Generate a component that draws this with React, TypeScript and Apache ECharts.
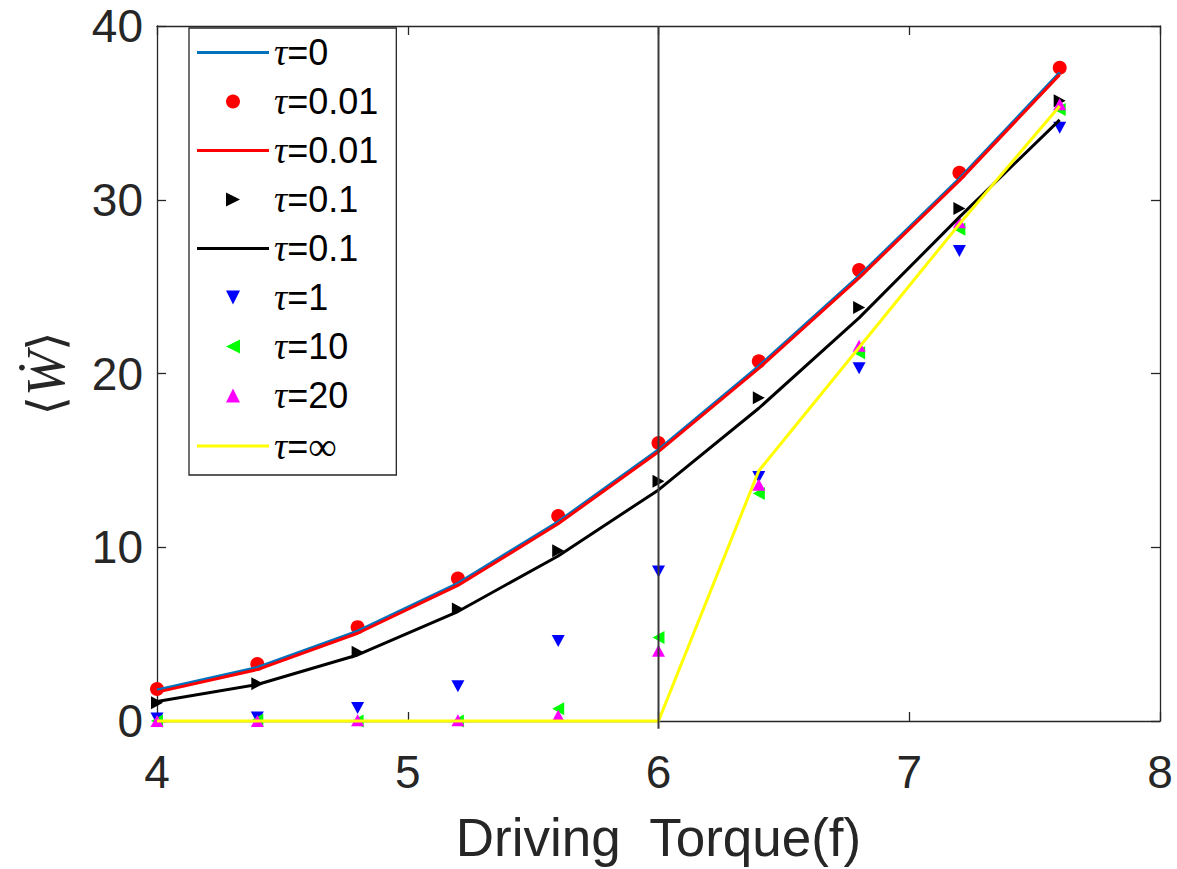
import React, { useEffect, useRef } from 'react';
import * as echarts from 'echarts';

// Driving torque samples (x axis)
const torque = [4.0, 4.4, 4.8, 5.2, 5.6, 6.0, 6.4, 6.8, 7.2, 7.6];

// Mean work rate <W-dot> for each relaxation time tau
const workTau0Line = [1.78, 3.08, 5.17, 7.92, 11.47, 15.62, 20.42, 25.62, 31.22, 37.32];
const workTau001Pts = [1.84, 3.28, 5.4, 8.2, 11.8, 16.0, 20.7, 25.95, 31.55, 37.6];
const workTau001Line = [1.66, 2.96, 5.05, 7.8, 11.35, 15.5, 20.3, 25.5, 31.1, 37.2];
const workTau01Pts = [1.05, 2.15, 3.95, 6.45, 9.8, 13.8, 18.6, 23.8, 29.5, 35.7];
const workTau01Line = [1.12, 2.1, 3.8, 6.3, 9.5, 13.3, 18.0, 23.2, 29.0, 34.6];
const workTau1Pts = [0.15, 0.2, 0.75, 2.0, 4.6, 8.6, 14.05, 20.3, 27.05, 34.15];
const workTau10Pts = [0.0, 0.05, 0.0, 0.0, 0.7, 4.8, 13.1, 21.2, 28.3, 35.2];
const workTau20Pts = [0.0, 0.0, 0.05, 0.05, 0.3, 4.05, 13.6, 21.6, 28.7, 35.5];
const workTauInfLine = [0, 0, 0, 0, 0, 0, 14.4, 21.5, 28.6, 35.4];

// Vertical reference line at the critical torque
const criticalTorque = 6;
const criticalSpan = [-0.45, 40];

// Axis ranges
const xRange = [4, 8];
const xStep = 1;
const yRange = [0, 40];
const yStep = 10;

// Legend entries: series name, text after the tau symbol, drawn as a line or as a marker
const legendEntries = [
  { name: 'tau0Line', rest: '=0', line: true },
  { name: 'tau001Pts', rest: '=0.01', line: false },
  { name: 'tau001Line', rest: '=0.01', line: true },
  { name: 'tau01Pts', rest: '=0.1', line: false },
  { name: 'tau01Line', rest: '=0.1', line: true },
  { name: 'tau1Pts', rest: '=1', line: false },
  { name: 'tau10Pts', rest: '=10', line: false },
  { name: 'tau20Pts', rest: '=20', line: false },
  { name: 'tauInfLine', rest: '=∞', line: true },
];

const TRI_RIGHT = 'path://M0,0L10,5L0,10Z';
const TRI_LEFT = 'path://M10,0L0,5L10,10Z';
const TRI_DOWN = 'path://M0,0L10,0L5,10Z';
const TRI_UP = 'path://M5,0L10,10L0,10Z';
const LINE_ICON = 'path://M0,0H72V3H0Z';

const AXIS_COLOR = '#262626';
const SANS = '"Liberation Sans", Arial, Helvetica, sans-serif';
const SERIF = '"Liberation Serif", "Times New Roman", "DejaVu Serif", serif';

const pairs = (ys: number[]) => torque.map((x, i) => [x, ys[i]]);

const lineSeries = (name: string, ys: number[], color: string) => ({
  name,
  type: 'line',
  data: pairs(ys),
  symbol: 'none',
  showSymbol: false,
  clip: false,
  lineStyle: { color, width: 3 },
  itemStyle: { color },
});

const markerSeries = (name: string, ys: number[], color: string, symbol: string, size: number | number[]) => ({
  name,
  type: 'scatter',
  data: pairs(ys),
  symbol,
  symbolSize: size,
  clip: false,
  itemStyle: { color, opacity: 1 },
});

export default function App() {
  const ref = useRef<HTMLDivElement>(null);

  useEffect(() => {
    if (!ref.current) return;
    const chart = echarts.init(ref.current, null, { renderer: 'svg' });

    const baseAxis = {
      type: 'value',
      axisLine: { show: true, onZero: false, lineStyle: { color: AXIS_COLOR, width: 1.3 } },
      axisTick: { show: true, inside: true, length: 9, lineStyle: { color: AXIS_COLOR, width: 1.3 } },
      splitLine: { show: false },
    };

    const restByName: Record<string, string> = {};
    legendEntries.forEach((e) => (restByName[e.name] = e.rest));

    const option = {
      animation: false,
      backgroundColor: '#ffffff',
      grid: { left: 157, right: 17, top: 26, bottom: 147, containLabel: false },
      xAxis: [
        {
          ...baseAxis,
          position: 'bottom',
          min: xRange[0],
          max: xRange[1],
          interval: xStep,
          axisLabel: { color: AXIS_COLOR, fontFamily: SANS, fontSize: 46, margin: 28 },
          name: 'Driving  Torque(f)',
          nameLocation: 'middle',
          nameGap: 90,
          nameTextStyle: { color: AXIS_COLOR, fontFamily: SANS, fontSize: 53 },
        },
        {
          ...baseAxis,
          position: 'top',
          min: xRange[0],
          max: xRange[1],
          interval: xStep,
          axisLabel: { show: false },
        },
      ],
      yAxis: [
        {
          ...baseAxis,
          position: 'left',
          min: yRange[0],
          max: yRange[1],
          interval: yStep,
          axisLabel: { color: AXIS_COLOR, fontFamily: SANS, fontSize: 46, margin: 14 },
          name: '{b|⟨}{w|Ẇ}{b|⟩}',
          nameLocation: 'middle',
          nameRotate: 90,
          nameGap: 84,
          nameTextStyle: {
            rich: {
              b: { fontFamily: '"DejaVu Sans", sans-serif', fontSize: 50, color: AXIS_COLOR },
              w: { fontFamily: SERIF, fontStyle: 'italic', fontSize: 54, color: AXIS_COLOR },
            },
          },
        },
        {
          ...baseAxis,
          position: 'right',
          min: yRange[0],
          max: yRange[1],
          interval: yStep,
          axisLabel: { show: false },
        },
      ],
      legend: {
        orient: 'vertical',
        left: 189,
        top: 28,
        padding: [6, 18, 9, 8],
        itemGap: 12,
        itemWidth: 72,
        itemHeight: 14,
        selectedMode: false,
        backgroundColor: '#ffffff',
        borderColor: AXIS_COLOR,
        borderWidth: 1.3,
        borderRadius: 0,
        data: legendEntries.map((e) => (e.line ? { name: e.name, icon: LINE_ICON } : { name: e.name })),
        formatter: (name: string) => {
          const rest = restByName[name] || '';
          if (rest.includes('∞')) return '{t|τ}{n|=}{s|∞}';
          return `{t|τ}{n|${rest}}`;
        },
        textStyle: {
          color: '#000000',
          fontSize: 36,
          rich: {
            t: { fontFamily: SERIF, fontStyle: 'italic', fontSize: 37, lineHeight: 33, color: '#000000' },
            n: { fontFamily: SANS, fontSize: 36, lineHeight: 33, color: '#000000' },
            s: { fontFamily: SERIF, fontSize: 40, lineHeight: 33, color: '#000000' },
          },
        },
      },
      series: [
        lineSeries('tau0Line', workTau0Line, '#0072BD'),
        markerSeries('tau001Pts', workTau001Pts, '#FF0000', 'circle', 14),
        lineSeries('tau001Line', workTau001Line, '#FF0000'),
        markerSeries('tau01Pts', workTau01Pts, '#000000', TRI_RIGHT, [12, 13]),
        lineSeries('tau01Line', workTau01Line, '#000000'),
        markerSeries('tau1Pts', workTau1Pts, '#0000FF', TRI_DOWN, [13, 12]),
        markerSeries('tau10Pts', workTau10Pts, '#00FF00', TRI_LEFT, [12, 13]),
        markerSeries('tau20Pts', workTau20Pts, '#FF00FF', TRI_UP, [13, 12]),
        lineSeries('tauInfLine', workTauInfLine, '#FFFF00'),
        {
          name: 'criticalTorque',
          type: 'line',
          data: criticalSpan.map((y) => [criticalTorque, y]),
          symbol: 'none',
          clip: false,
          lineStyle: { color: '#3a3a3a', width: 2 },
          z: 3,
        },
      ],
    };

    chart.setOption(option as any);
    return () => chart.dispose();
  }, []);

  return (
    <div
      ref={ref}
      style={{ position: 'fixed', left: 0, top: 0, width: 1177, height: 869, background: '#fff' }}
    />
  );
}
